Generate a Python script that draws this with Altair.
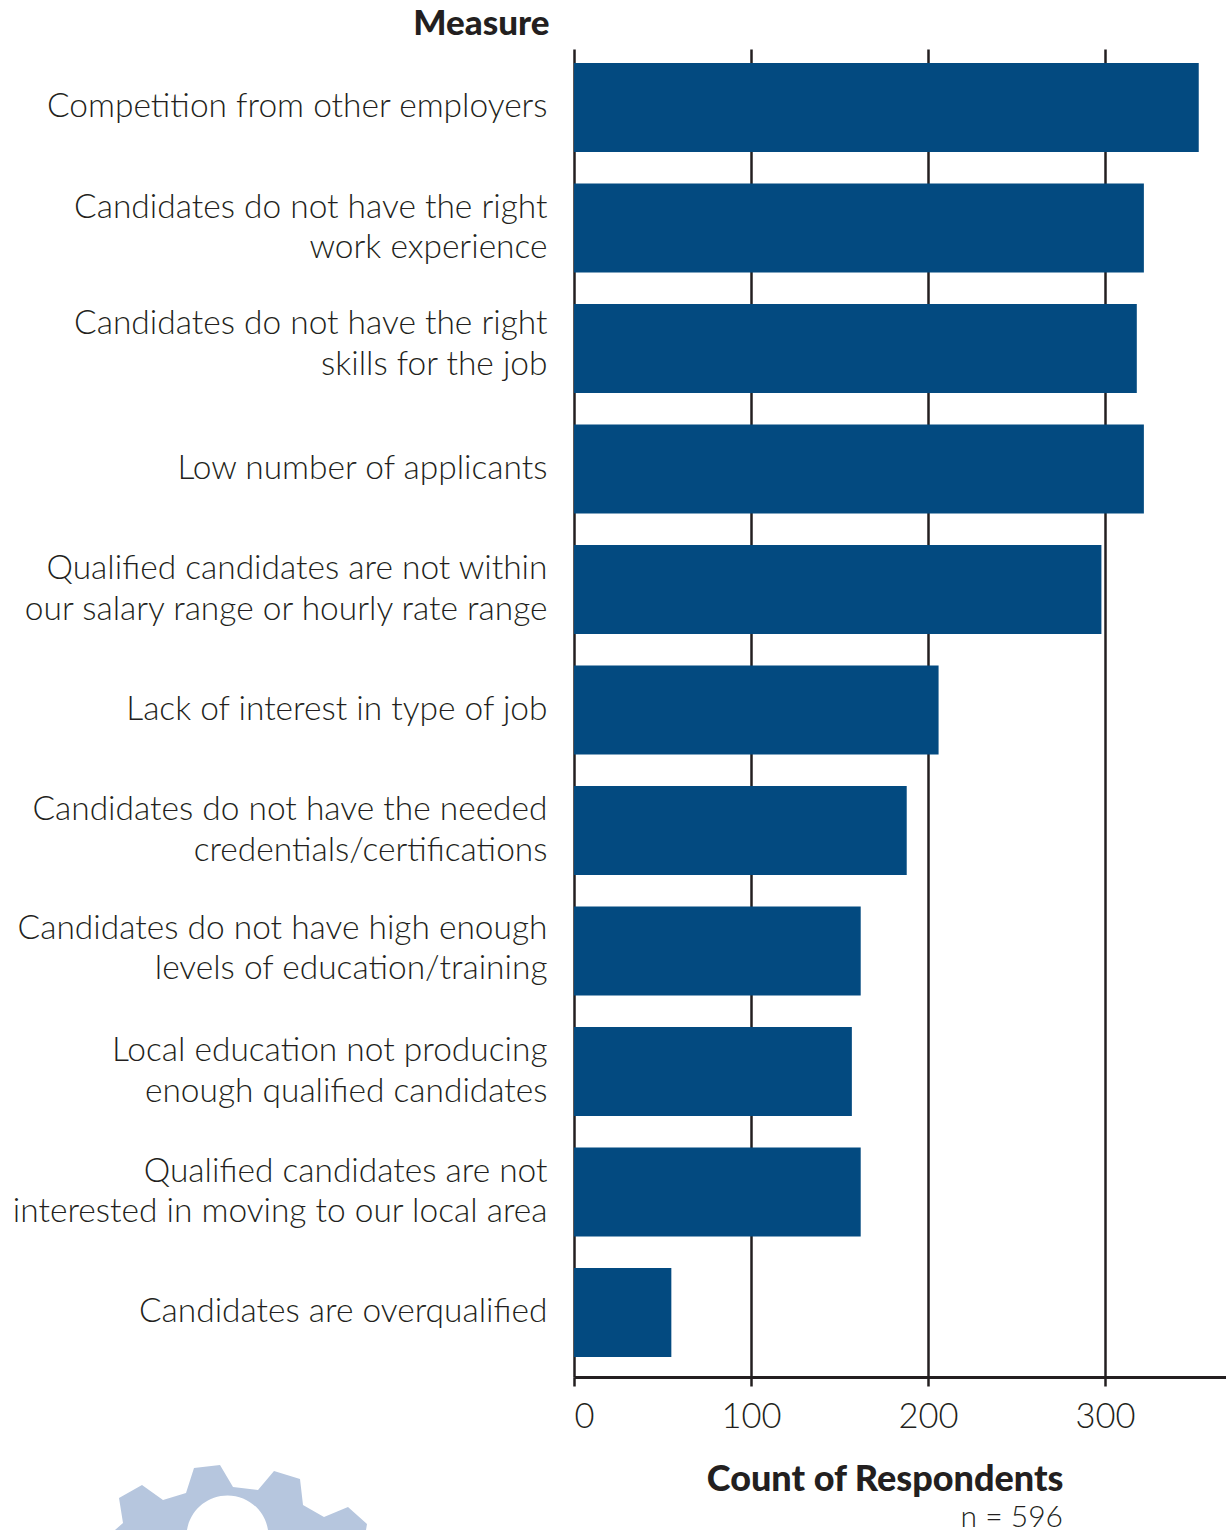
import altair as alt
import pandas as pd

measures = [
    "Competition from other employers",
    "Candidates do not have the right|work experience",
    "Candidates do not have the right|skills for the job",
    "Low number of applicants",
    "Qualified candidates are not within|our salary range or hourly rate range",
    "Lack of interest in type of job",
    "Candidates do not have the needed|credentials/certifications",
    "Candidates do not have high enough|levels of education/training",
    "Local education not producing|enough qualified candidates",
    "Qualified candidates are not|interested in moving to our local area",
    "Candidates are overqualified",
]
counts = [353, 322, 318, 322, 298, 206, 188, 162, 157, 162, 55]
tick_values = [0, 100, 200, 300]
note = "n = 596"
GEAR = ("M-112 0L-104 -7L-108 -32L-85 -45L-64 -30L-41 -37L-33 -62L-7 -65L6 -43L31 -40L47 -59L73 -51"
        "L76 -25L97 -13L121 -23L140 -6L139 0L41 0A41 41 0 0 0 -40 0Z")

df = pd.DataFrame({"measure": measures, "count": counts})
INK = "#231f20"
FONT = "Lato"

x_axis = alt.Axis(
    values=tick_values, format="d", title="Count of Respondents",
    titleFont=FONT, titleFontSize=36, titleFontWeight=900, titleColor=INK,
    titleAlign="right", titleAnchor="start", titleX=489, titleY=113, titleBaseline="alphabetic",
    labelFont=FONT, labelFontSize=34.5, labelFontWeight=300, labelColor=INK, labelFlush=True, labelPadding=14,
    labelOverlap=False,
    grid=True, gridColor=INK, gridWidth=2.5, gridOpacity=1,
    domainColor=INK, domainWidth=3, tickColor=INK, tickWidth=2.5, tickSize=9,
)
y_axis = alt.Axis(
    title="Measure", titleFont=FONT, titleFontSize=35, titleFontWeight=900, titleColor=INK,
    titleAngle=0, titleAlign="right", titleBaseline="alphabetic", titleX=-25, titleY=-15,
    labelFont=FONT, labelFontSize=33.5, labelFontWeight=300, labelColor=INK, labelLimit=600, labelPadding=27,
    labelExpr="split(datum.label, '|')", labelLineHeight=40.5,
    labelOffset={"condition": [
        {"test": "indexof(datum.value, 'skills for') >= 0", "value": -24},
        {"test": "indexof(datum.value, 'levels of') >= 0", "value": -22},
        {"test": "indexof(datum.value, '|') >= 0", "value": -20},
    ], "value": 0},
    ticks=False, domain=False,
)

bars = alt.Chart(df).mark_bar(color="#034A80").encode(
    x=alt.X("count:Q", axis=x_axis, scale=alt.Scale(domain=[0, 368.4], nice=False)),
    y=alt.Y("measure:N", sort=measures, axis=y_axis,
            scale=alt.Scale(paddingInner=0.261, paddingOuter=0.141, align=0.41)),
)
note_text = alt.Chart(pd.DataFrame({"t": [note]})).mark_text(
    font=FONT, fontSize=30, fontWeight=300, color=INK, align="right", baseline="alphabetic"
).encode(text="t:N", x=alt.value(489), y=alt.value(1478))
gear = alt.Chart(pd.DataFrame({"k": ["gear"]})).mark_point(
    shape=GEAR, size=4, filled=True, color="#B6C6DE", opacity=1, strokeWidth=0
).encode(x=alt.value(-347), y=alt.value(1481))

chart = alt.layer(bars, note_text, gear).properties(
    width=652, height=1328,
    autosize=alt.AutoSizeParams(type="none"),
    padding={"left": 566, "top": 41, "right": 0, "bottom": 153},
).configure_view(stroke=None)

chart.save("out.html", embed_options={
    "renderer": "svg", "actions": False,
    "defaultStyle": "html{overflow:hidden} body{width:1218px;height:1522px} "
                    "#vis svg{flex:none !important;max-width:none !important;overflow:visible}",
})
